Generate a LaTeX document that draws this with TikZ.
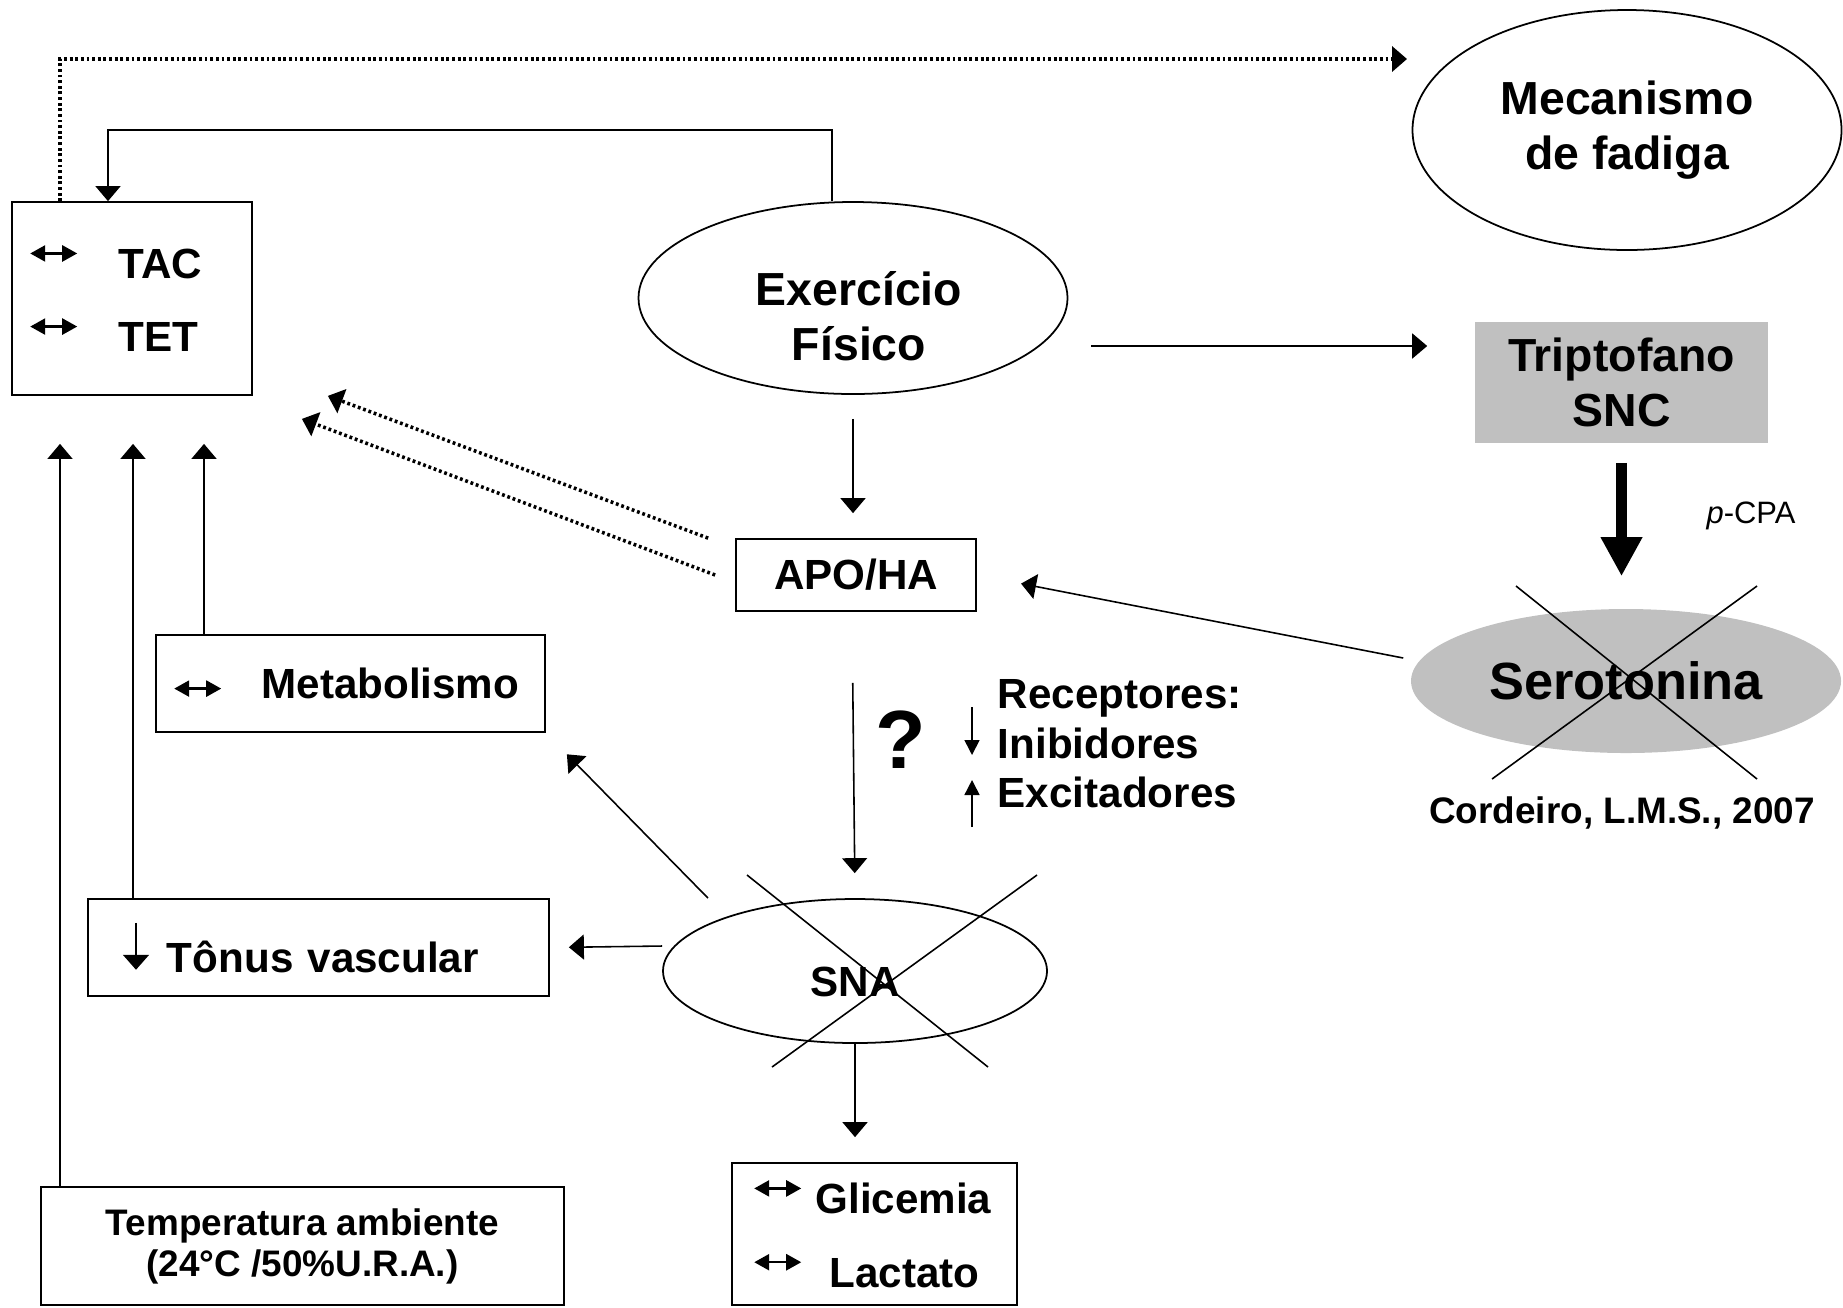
\documentclass[tikz,border=0pt]{standalone}
\usepackage{fontspec}
\setmainfont{Liberation Sans}
\usetikzlibrary{arrows.meta,shapes.geometric}
\definecolor{cinza}{RGB}{192,192,192}
\newcommand{\lr}[1][0.25]{\tikz[baseline={(0,-#1)}]\draw[line width=0.7pt,{Triangle[length=0.15cm,width=0.16cm]}-{Triangle[length=0.15cm,width=0.16cm]}] (0,0) -- (0.47,0);}
\newcommand{\dn}{\tikz[baseline={(0,-0.03)}]\draw[line width=0.5pt,-{Triangle[length=0.15cm,width=0.26cm]}] (0,0.47) -- (0,0);}
\begin{document}
\begin{tikzpicture}[>={Triangle[length=0.15cm,width=0.25cm]}, line width=0.45pt,
    box/.style={draw, line width=0.5pt, inner sep=0, font=\bfseries\fontsize{12}{14}\selectfont},
    oval/.style={draw, ellipse, line width=0.5pt, inner sep=0},
    big/.style={font=\bfseries\fontsize{13.2}{15.6}\selectfont, align=center},
    dotline/.style={dash pattern=on 0.8pt off 0.8pt, line width=1pt},
    fat/.style={line width=3pt, -{Triangle[length=0.39cm,width=0.39cm]}},
    small/.style={-{Triangle[length=0.15cm,width=0.15cm]}}]
    \useasboundingbox (0,0) rectangle (18.43,-13.07);
    \node[oval, big, minimum width=4.29cm, minimum height=2.40cm] (mec) at (16.27,-1.30) {Mecanismo\\de fadiga};
    \node[box, minimum height=1.93cm, text width=2.06cm, inner xsep=0.17cm, align=left, font=\bfseries\fontsize{12}{20.8}\selectfont] (tac) at (1.32,-2.985) {\lr\hspace{0.4cm}TAC\\\lr\hspace{0.4cm}TET};
    \node[oval, minimum width=4.29cm, minimum height=1.92cm, label={[big, xshift=0.06cm, yshift=-0.18cm]center:Exercício\\Físico}] (ex) at (8.53,-2.98) {};
    \node[fill=cinza, minimum width=2.93cm, minimum height=1.21cm, big] (tri) at (16.215,-3.825) {Triptofano\\SNC};
    \node[ellipse, fill=cinza, minimum width=4.30cm, minimum height=1.44cm, inner sep=0, font=\bfseries\fontsize{14.9}{17}\selectfont] (ser) at (16.26,-6.81) {Serotonina};
    \node[font=\fontsize{8.8}{10}\selectfont] (pcpa) at (17.51,-5.16) {\textit{p}-CPA};
    \node[font=\bfseries\fontsize{10.5}{12}\selectfont] (cord) at (16.22,-8.13) {Cordeiro, L.M.S., 2007};
    \node[box, minimum width=2.40cm, minimum height=0.72cm] (apo) at (8.56,-5.75) {APO/HA};
    \node[box, text width=3.55cm, inner xsep=0.17cm, minimum height=0.97cm, align=left] (met) at (3.505,-6.835) {\lr[0.1]\hspace{0.39cm}Metabolismo};
    \node[box, text width=3.91cm, inner xsep=0.35cm, minimum height=0.97cm, align=left] (ton) at (3.185,-9.475) {\dn\hspace{0.18cm}Tônus vascular};
    \node[box, minimum width=5.23cm, minimum height=1.18cm, align=center, font=\bfseries\fontsize{10.5}{11.7}\selectfont] (tmp) at (3.025,-12.46) {Temperatura ambiente\\(24°C /50\%U.R.A.)};
    \node[box, text width=2.43cm, inner xsep=0.21cm, minimum height=1.42cm, align=left, font=\bfseries\fontsize{12}{21}\selectfont] (gli) at (8.745,-12.34) {\lr\hspace{0.13cm}Glicemia\\\lr\hspace{0.27cm}Lactato};
    \node[oval, minimum width=3.84cm, minimum height=1.44cm, label={[font=\bfseries\fontsize{12}{14}\selectfont, yshift=-0.11cm]center:SNA}] (sna) at (8.55,-9.71) {};
    \node[font=\bfseries\fontsize{23.5}{26}\selectfont] (q) at (9.01,-7.40) {?};
    \node[anchor=west, inner sep=0, align=left, font=\bfseries\fontsize{12}{14.1}\selectfont] (rec) at (9.97,-7.44) {Receptores:\\Inibidores\\Excitadores};
    % fadiga
    \coordinate (fad) at (14.07,-0.59);
    \draw[dotline, ->] ([xshift=-0.72cm]tac.north) |- (fad);
    \draw[->] ([xshift=-0.21cm]ex.north) -- ++(0,0.71) -| ([xshift=-0.24cm]tac.north);
    % serotonina
    \coordinate (exr) at (10.91,-3.46);
    \draw[->, shorten >=0.47cm] (exr) -- (exr -| tri.west);
    \draw[fat, shorten <=0.19cm, shorten >=0.32cm] (tri.south) -- (tri.south |- ser.north);
    \draw[->, shorten >=0.45cm] ([xshift=-0.07cm,yshift=0.23cm]ser.west) -- (apo.east);
    \draw (ser.center) ++(-1.10,0.95) -- ++(2.41,-1.93);
    \draw (ser.center) ++(1.31,0.95) -- ++(-2.65,-1.93);
    % hipotalamo
    \draw[->, shorten <=0.24cm, shorten >=0.25cm] (ex.south) -- (ex.south |- apo.north);
    \draw[dotline, ->] ([xshift=-0.27cm]apo.north west) -- ([xshift=0.75cm]tac.south east);
    \draw[dotline, ->] ([xshift=-0.20cm]apo.west) -- ([xshift=0.49cm,yshift=-0.23cm]tac.south east);
    \draw[->, shorten <=0.71cm, shorten >=0.25cm] ([xshift=-0.04cm]apo.south) -- (sna.north);
    \draw[small] ([xshift=-0.25cm,yshift=0.37cm]rec.west) -- ++(0,-0.48);
    \draw[small] ([xshift=-0.25cm,yshift=-0.83cm]rec.west) -- ++(0,0.47);
    % SNA
    \draw[->, shorten >=0.30cm] ([xshift=-1.47cm]sna.north) -- (met.south east);
    \draw[->, shorten >=0.19cm] ([yshift=0.25cm]sna.west) -- (ton.east);
    \draw[->, shorten >=0.25cm] (sna.south) -- (sna.south |- gli.north);
    \draw (sna.center) ++(-1.08,0.96) -- ++(2.41,-1.92);
    \draw (sna.center) ++(1.82,0.96) -- ++(-2.65,-1.92);
    % para TAC/TET
    \foreach \x/\n in {0.60/tmp, 1.33/ton, 2.04/met}
        \draw[->, shorten >=0.48cm] (\n.north -| \x,0) -- (tac.south -| \x,0);
\end{tikzpicture}
\end{document}
